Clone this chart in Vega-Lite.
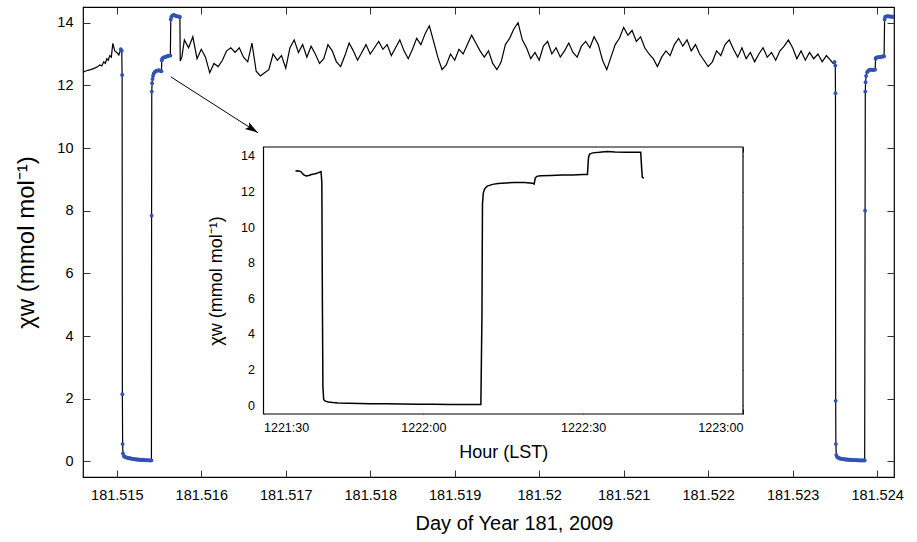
{
  "$schema": "https://vega.github.io/schema/vega-lite/v6.json",
  "width": 811,
  "height": 470,
  "autosize": {"type": "none"},
  "padding": {"left": 83, "top": 7, "right": 23, "bottom": 65},
  "background": "white",
  "config": {
    "font": "Liberation Sans",
    "view": {"stroke": "#000", "strokeWidth": 1.2},
    "axis": {"domain": false, "grid": false, "tickColor": "#333", "tickWidth": 1, "labelColor": "#000", "titleColor": "#000", "titleFontWeight": "normal"}
  },
  "datasets": {
    "main": [
      {"t": 181.514597, "chi": 12.42, "cal": 0},
      {"t": 181.514627, "chi": 12.45, "cal": 0},
      {"t": 181.514657, "chi": 12.48, "cal": 0},
      {"t": 181.514692, "chi": 12.5, "cal": 0},
      {"t": 181.514739, "chi": 12.55, "cal": 0},
      {"t": 181.514775, "chi": 12.6, "cal": 0},
      {"t": 181.514799, "chi": 12.65, "cal": 0},
      {"t": 181.514822, "chi": 12.62, "cal": 0},
      {"t": 181.514846, "chi": 12.75, "cal": 0},
      {"t": 181.514864, "chi": 12.7, "cal": 0},
      {"t": 181.514882, "chi": 12.85, "cal": 0},
      {"t": 181.514899, "chi": 12.8, "cal": 0},
      {"t": 181.514917, "chi": 12.95, "cal": 0},
      {"t": 181.514935, "chi": 12.9, "cal": 0},
      {"t": 181.514953, "chi": 13.34, "cal": 0},
      {"t": 181.514976, "chi": 13.1, "cal": 0},
      {"t": 181.515, "chi": 13.05, "cal": 0},
      {"t": 181.515024, "chi": 12.97, "cal": 0},
      {"t": 181.515047, "chi": 13.15, "cal": 1},
      {"t": 181.515059, "chi": 13.1, "cal": 1},
      {"t": 181.515063, "chi": 12.33, "cal": 1},
      {"t": 181.515066, "chi": 2.14, "cal": 1},
      {"t": 181.515069, "chi": 0.55, "cal": 1},
      {"t": 181.515073, "chi": 0.25, "cal": 1},
      {"t": 181.515083, "chi": 0.17, "cal": 1},
      {"t": 181.515095, "chi": 0.14, "cal": 1},
      {"t": 181.515107, "chi": 0.13, "cal": 1},
      {"t": 181.515119, "chi": 0.12, "cal": 1},
      {"t": 181.51513, "chi": 0.11, "cal": 1},
      {"t": 181.515142, "chi": 0.1, "cal": 1},
      {"t": 181.515154, "chi": 0.1, "cal": 1},
      {"t": 181.515166, "chi": 0.09, "cal": 1},
      {"t": 181.515178, "chi": 0.08, "cal": 1},
      {"t": 181.515189, "chi": 0.08, "cal": 1},
      {"t": 181.515201, "chi": 0.07, "cal": 1},
      {"t": 181.515213, "chi": 0.07, "cal": 1},
      {"t": 181.515225, "chi": 0.06, "cal": 1},
      {"t": 181.515237, "chi": 0.06, "cal": 1},
      {"t": 181.515249, "chi": 0.06, "cal": 1},
      {"t": 181.515261, "chi": 0.05, "cal": 1},
      {"t": 181.515272, "chi": 0.05, "cal": 1},
      {"t": 181.515284, "chi": 0.05, "cal": 1},
      {"t": 181.515296, "chi": 0.04, "cal": 1},
      {"t": 181.515308, "chi": 0.05, "cal": 1},
      {"t": 181.51532, "chi": 0.04, "cal": 1},
      {"t": 181.515332, "chi": 0.04, "cal": 1},
      {"t": 181.515343, "chi": 0.04, "cal": 1},
      {"t": 181.515355, "chi": 0.03, "cal": 1},
      {"t": 181.515367, "chi": 0.04, "cal": 1},
      {"t": 181.515379, "chi": 0.03, "cal": 1},
      {"t": 181.515391, "chi": 0.03, "cal": 1},
      {"t": 181.515403, "chi": 0.03, "cal": 1},
      {"t": 181.51541, "chi": 0.03, "cal": 1},
      {"t": 181.515412, "chi": 7.84, "cal": 1},
      {"t": 181.515414, "chi": 11.8, "cal": 1},
      {"t": 181.515418, "chi": 12.07, "cal": 1},
      {"t": 181.515423, "chi": 12.2, "cal": 1},
      {"t": 181.515429, "chi": 12.3, "cal": 1},
      {"t": 181.515438, "chi": 12.38, "cal": 1},
      {"t": 181.51545, "chi": 12.43, "cal": 1},
      {"t": 181.515462, "chi": 12.45, "cal": 1},
      {"t": 181.515474, "chi": 12.47, "cal": 1},
      {"t": 181.515486, "chi": 12.47, "cal": 1},
      {"t": 181.515497, "chi": 12.48, "cal": 1},
      {"t": 181.515509, "chi": 12.47, "cal": 1},
      {"t": 181.515521, "chi": 12.46, "cal": 1},
      {"t": 181.515528, "chi": 12.45, "cal": 1},
      {"t": 181.515533, "chi": 12.8, "cal": 1},
      {"t": 181.515539, "chi": 12.86, "cal": 1},
      {"t": 181.515551, "chi": 12.88, "cal": 1},
      {"t": 181.515562, "chi": 12.9, "cal": 1},
      {"t": 181.515574, "chi": 12.9, "cal": 1},
      {"t": 181.515586, "chi": 12.92, "cal": 1},
      {"t": 181.515598, "chi": 12.93, "cal": 1},
      {"t": 181.51561, "chi": 12.94, "cal": 1},
      {"t": 181.515622, "chi": 12.95, "cal": 1},
      {"t": 181.515634, "chi": 12.95, "cal": 1},
      {"t": 181.515639, "chi": 14.1, "cal": 1},
      {"t": 181.515645, "chi": 14.18, "cal": 1},
      {"t": 181.515657, "chi": 14.22, "cal": 1},
      {"t": 181.515669, "chi": 14.25, "cal": 1},
      {"t": 181.515681, "chi": 14.24, "cal": 1},
      {"t": 181.515693, "chi": 14.22, "cal": 1},
      {"t": 181.515705, "chi": 14.21, "cal": 1},
      {"t": 181.515716, "chi": 14.2, "cal": 1},
      {"t": 181.515728, "chi": 14.2, "cal": 1},
      {"t": 181.51574, "chi": 14.19, "cal": 1},
      {"t": 181.515747, "chi": 14.18, "cal": 1},
      {"t": 181.515751, "chi": 12.78, "cal": 0},
      {"t": 181.51577, "chi": 12.9, "cal": 0},
      {"t": 181.5158, "chi": 13.45, "cal": 0},
      {"t": 181.51585, "chi": 13.2, "cal": 0},
      {"t": 181.5159, "chi": 13.55, "cal": 0},
      {"t": 181.51595, "chi": 12.85, "cal": 0},
      {"t": 181.516, "chi": 13.15, "cal": 0},
      {"t": 181.51605, "chi": 12.9, "cal": 0},
      {"t": 181.5161, "chi": 12.4, "cal": 0},
      {"t": 181.51615, "chi": 12.7, "cal": 0},
      {"t": 181.5162, "chi": 12.6, "cal": 0},
      {"t": 181.51625, "chi": 12.8, "cal": 0},
      {"t": 181.5163, "chi": 13.1, "cal": 0},
      {"t": 181.51635, "chi": 13.2, "cal": 0},
      {"t": 181.5164, "chi": 13.05, "cal": 0},
      {"t": 181.51645, "chi": 13.2, "cal": 0},
      {"t": 181.5165, "chi": 12.9, "cal": 0},
      {"t": 181.51655, "chi": 12.75, "cal": 0},
      {"t": 181.5166, "chi": 13.35, "cal": 0},
      {"t": 181.51665, "chi": 12.45, "cal": 0},
      {"t": 181.5167, "chi": 12.3, "cal": 0},
      {"t": 181.51675, "chi": 12.4, "cal": 0},
      {"t": 181.5168, "chi": 12.5, "cal": 0},
      {"t": 181.51685, "chi": 13.0, "cal": 0},
      {"t": 181.5169, "chi": 12.8, "cal": 0},
      {"t": 181.51695, "chi": 12.95, "cal": 0},
      {"t": 181.517, "chi": 12.55, "cal": 0},
      {"t": 181.51705, "chi": 13.2, "cal": 0},
      {"t": 181.5171, "chi": 13.45, "cal": 0},
      {"t": 181.51715, "chi": 13.05, "cal": 0},
      {"t": 181.5172, "chi": 13.3, "cal": 0},
      {"t": 181.51725, "chi": 12.9, "cal": 0},
      {"t": 181.5173, "chi": 13.25, "cal": 0},
      {"t": 181.51735, "chi": 13.0, "cal": 0},
      {"t": 181.5174, "chi": 12.7, "cal": 0},
      {"t": 181.51745, "chi": 12.85, "cal": 0},
      {"t": 181.5175, "chi": 13.3, "cal": 0},
      {"t": 181.51755, "chi": 13.1, "cal": 0},
      {"t": 181.5176, "chi": 12.75, "cal": 0},
      {"t": 181.51765, "chi": 12.6, "cal": 0},
      {"t": 181.5177, "chi": 12.95, "cal": 0},
      {"t": 181.51775, "chi": 13.35, "cal": 0},
      {"t": 181.5178, "chi": 13.1, "cal": 0},
      {"t": 181.51785, "chi": 12.8, "cal": 0},
      {"t": 181.5179, "chi": 13.05, "cal": 0},
      {"t": 181.51795, "chi": 13.3, "cal": 0},
      {"t": 181.518, "chi": 13.0, "cal": 0},
      {"t": 181.51805, "chi": 13.2, "cal": 0},
      {"t": 181.5181, "chi": 13.4, "cal": 0},
      {"t": 181.51815, "chi": 13.15, "cal": 0},
      {"t": 181.5182, "chi": 13.3, "cal": 0},
      {"t": 181.51825, "chi": 12.95, "cal": 0},
      {"t": 181.5183, "chi": 13.2, "cal": 0},
      {"t": 181.51835, "chi": 13.45, "cal": 0},
      {"t": 181.5184, "chi": 13.1, "cal": 0},
      {"t": 181.51845, "chi": 12.85, "cal": 0},
      {"t": 181.5185, "chi": 13.15, "cal": 0},
      {"t": 181.51855, "chi": 13.5, "cal": 0},
      {"t": 181.5186, "chi": 13.3, "cal": 0},
      {"t": 181.51865, "chi": 13.65, "cal": 0},
      {"t": 181.5187, "chi": 13.9, "cal": 0},
      {"t": 181.51875, "chi": 13.4, "cal": 0},
      {"t": 181.5188, "chi": 12.9, "cal": 0},
      {"t": 181.51885, "chi": 12.5, "cal": 0},
      {"t": 181.5189, "chi": 12.65, "cal": 0},
      {"t": 181.51895, "chi": 13.0, "cal": 0},
      {"t": 181.519, "chi": 12.8, "cal": 0},
      {"t": 181.51905, "chi": 13.15, "cal": 0},
      {"t": 181.5191, "chi": 13.0, "cal": 0},
      {"t": 181.51915, "chi": 13.3, "cal": 0},
      {"t": 181.5192, "chi": 13.6, "cal": 0},
      {"t": 181.51925, "chi": 13.35, "cal": 0},
      {"t": 181.5193, "chi": 13.1, "cal": 0},
      {"t": 181.51935, "chi": 12.9, "cal": 0},
      {"t": 181.5194, "chi": 13.1, "cal": 0},
      {"t": 181.51945, "chi": 12.7, "cal": 0},
      {"t": 181.5195, "chi": 12.5, "cal": 0},
      {"t": 181.51955, "chi": 12.75, "cal": 0},
      {"t": 181.5196, "chi": 13.3, "cal": 0},
      {"t": 181.51965, "chi": 13.5, "cal": 0},
      {"t": 181.5197, "chi": 13.8, "cal": 0},
      {"t": 181.51975, "chi": 14.0, "cal": 0},
      {"t": 181.5198, "chi": 13.45, "cal": 0},
      {"t": 181.51985, "chi": 13.2, "cal": 0},
      {"t": 181.5199, "chi": 12.85, "cal": 0},
      {"t": 181.51995, "chi": 13.05, "cal": 0},
      {"t": 181.52, "chi": 12.8, "cal": 0},
      {"t": 181.52005, "chi": 13.25, "cal": 0},
      {"t": 181.5201, "chi": 13.4, "cal": 0},
      {"t": 181.52015, "chi": 13.0, "cal": 0},
      {"t": 181.5202, "chi": 13.2, "cal": 0},
      {"t": 181.52025, "chi": 12.9, "cal": 0},
      {"t": 181.5203, "chi": 13.1, "cal": 0},
      {"t": 181.52035, "chi": 13.35, "cal": 0},
      {"t": 181.5204, "chi": 13.05, "cal": 0},
      {"t": 181.52045, "chi": 12.9, "cal": 0},
      {"t": 181.5205, "chi": 13.25, "cal": 0},
      {"t": 181.52055, "chi": 13.4, "cal": 0},
      {"t": 181.5206, "chi": 13.2, "cal": 0},
      {"t": 181.52065, "chi": 13.55, "cal": 0},
      {"t": 181.5207, "chi": 13.3, "cal": 0},
      {"t": 181.52075, "chi": 12.8, "cal": 0},
      {"t": 181.5208, "chi": 12.5, "cal": 0},
      {"t": 181.52085, "chi": 12.9, "cal": 0},
      {"t": 181.5209, "chi": 13.3, "cal": 0},
      {"t": 181.52095, "chi": 13.5, "cal": 0},
      {"t": 181.521, "chi": 13.85, "cal": 0},
      {"t": 181.52105, "chi": 13.6, "cal": 0},
      {"t": 181.5211, "chi": 13.75, "cal": 0},
      {"t": 181.52115, "chi": 13.4, "cal": 0},
      {"t": 181.5212, "chi": 13.55, "cal": 0},
      {"t": 181.52125, "chi": 13.2, "cal": 0},
      {"t": 181.5213, "chi": 13.0, "cal": 0},
      {"t": 181.52135, "chi": 12.85, "cal": 0},
      {"t": 181.5214, "chi": 12.6, "cal": 0},
      {"t": 181.52145, "chi": 12.9, "cal": 0},
      {"t": 181.5215, "chi": 13.1, "cal": 0},
      {"t": 181.52155, "chi": 12.95, "cal": 0},
      {"t": 181.5216, "chi": 13.3, "cal": 0},
      {"t": 181.52165, "chi": 13.5, "cal": 0},
      {"t": 181.5217, "chi": 13.25, "cal": 0},
      {"t": 181.52175, "chi": 13.45, "cal": 0},
      {"t": 181.5218, "chi": 13.1, "cal": 0},
      {"t": 181.52185, "chi": 13.3, "cal": 0},
      {"t": 181.5219, "chi": 13.0, "cal": 0},
      {"t": 181.52195, "chi": 12.8, "cal": 0},
      {"t": 181.522, "chi": 12.6, "cal": 0},
      {"t": 181.52205, "chi": 12.75, "cal": 0},
      {"t": 181.5221, "chi": 13.1, "cal": 0},
      {"t": 181.52215, "chi": 12.95, "cal": 0},
      {"t": 181.5222, "chi": 13.3, "cal": 0},
      {"t": 181.52225, "chi": 13.45, "cal": 0},
      {"t": 181.5223, "chi": 13.15, "cal": 0},
      {"t": 181.52235, "chi": 12.9, "cal": 0},
      {"t": 181.5224, "chi": 13.2, "cal": 0},
      {"t": 181.52245, "chi": 12.85, "cal": 0},
      {"t": 181.5225, "chi": 13.05, "cal": 0},
      {"t": 181.52255, "chi": 12.75, "cal": 0},
      {"t": 181.5226, "chi": 13.0, "cal": 0},
      {"t": 181.52265, "chi": 13.2, "cal": 0},
      {"t": 181.5227, "chi": 12.9, "cal": 0},
      {"t": 181.52275, "chi": 13.05, "cal": 0},
      {"t": 181.5228, "chi": 12.8, "cal": 0},
      {"t": 181.52285, "chi": 13.1, "cal": 0},
      {"t": 181.5229, "chi": 13.25, "cal": 0},
      {"t": 181.52295, "chi": 13.45, "cal": 0},
      {"t": 181.523, "chi": 13.2, "cal": 0},
      {"t": 181.52305, "chi": 12.85, "cal": 0},
      {"t": 181.5231, "chi": 13.1, "cal": 0},
      {"t": 181.52315, "chi": 12.8, "cal": 0},
      {"t": 181.5232, "chi": 13.05, "cal": 0},
      {"t": 181.52325, "chi": 12.85, "cal": 0},
      {"t": 181.5233, "chi": 13.0, "cal": 0},
      {"t": 181.52335, "chi": 12.75, "cal": 0},
      {"t": 181.5234, "chi": 12.95, "cal": 0},
      {"t": 181.52345, "chi": 12.8, "cal": 0},
      {"t": 181.5234788, "chi": 12.7, "cal": 0},
      {"t": 181.5234966, "chi": 12.75, "cal": 1},
      {"t": 181.5235049, "chi": 12.63, "cal": 1},
      {"t": 181.5235073, "chi": 11.75, "cal": 1},
      {"t": 181.5235097, "chi": 1.93, "cal": 1},
      {"t": 181.523512, "chi": 0.55, "cal": 1},
      {"t": 181.5235168, "chi": 0.2, "cal": 1},
      {"t": 181.5235262, "chi": 0.14, "cal": 1},
      {"t": 181.5235381, "chi": 0.12, "cal": 1},
      {"t": 181.5235499, "chi": 0.1, "cal": 1},
      {"t": 181.5235618, "chi": 0.09, "cal": 1},
      {"t": 181.5235736, "chi": 0.08, "cal": 1},
      {"t": 181.5235854, "chi": 0.08, "cal": 1},
      {"t": 181.5235973, "chi": 0.07, "cal": 1},
      {"t": 181.5236091, "chi": 0.07, "cal": 1},
      {"t": 181.523621, "chi": 0.06, "cal": 1},
      {"t": 181.5236328, "chi": 0.06, "cal": 1},
      {"t": 181.5236446, "chi": 0.06, "cal": 1},
      {"t": 181.5236565, "chi": 0.05, "cal": 1},
      {"t": 181.5236683, "chi": 0.05, "cal": 1},
      {"t": 181.5236802, "chi": 0.05, "cal": 1},
      {"t": 181.523692, "chi": 0.05, "cal": 1},
      {"t": 181.5237039, "chi": 0.04, "cal": 1},
      {"t": 181.5237157, "chi": 0.04, "cal": 1},
      {"t": 181.5237275, "chi": 0.04, "cal": 1},
      {"t": 181.5237394, "chi": 0.04, "cal": 1},
      {"t": 181.5237512, "chi": 0.04, "cal": 1},
      {"t": 181.5237631, "chi": 0.03, "cal": 1},
      {"t": 181.5237749, "chi": 0.04, "cal": 1},
      {"t": 181.5237867, "chi": 0.03, "cal": 1},
      {"t": 181.5237986, "chi": 0.03, "cal": 1},
      {"t": 181.5238104, "chi": 0.03, "cal": 1},
      {"t": 181.5238223, "chi": 0.03, "cal": 1},
      {"t": 181.5238341, "chi": 0.03, "cal": 1},
      {"t": 181.5238459, "chi": 0.03, "cal": 1},
      {"t": 181.523853, "chi": 0.03, "cal": 1},
      {"t": 181.5238578, "chi": 8.0, "cal": 1},
      {"t": 181.5238601, "chi": 11.8, "cal": 1},
      {"t": 181.5238637, "chi": 12.1, "cal": 1},
      {"t": 181.5238696, "chi": 12.3, "cal": 1},
      {"t": 181.5238815, "chi": 12.42, "cal": 1},
      {"t": 181.5238933, "chi": 12.46, "cal": 1},
      {"t": 181.5239052, "chi": 12.48, "cal": 1},
      {"t": 181.523917, "chi": 12.5, "cal": 1},
      {"t": 181.5239289, "chi": 12.5, "cal": 1},
      {"t": 181.5239407, "chi": 12.5, "cal": 1},
      {"t": 181.5239525, "chi": 12.49, "cal": 1},
      {"t": 181.5239644, "chi": 12.5, "cal": 1},
      {"t": 181.5239762, "chi": 12.5, "cal": 1},
      {"t": 181.5239822, "chi": 12.85, "cal": 1},
      {"t": 181.5239881, "chi": 12.88, "cal": 1},
      {"t": 181.5239999, "chi": 12.89, "cal": 1},
      {"t": 181.5240118, "chi": 12.9, "cal": 1},
      {"t": 181.5240236, "chi": 12.9, "cal": 1},
      {"t": 181.5240355, "chi": 12.9, "cal": 1},
      {"t": 181.5240473, "chi": 12.91, "cal": 1},
      {"t": 181.5240592, "chi": 12.92, "cal": 1},
      {"t": 181.524071, "chi": 12.92, "cal": 1},
      {"t": 181.5240828, "chi": 12.93, "cal": 1},
      {"t": 181.5240888, "chi": 14.1, "cal": 1},
      {"t": 181.5240947, "chi": 14.18, "cal": 1},
      {"t": 181.5241065, "chi": 14.2, "cal": 1},
      {"t": 181.5241184, "chi": 14.21, "cal": 1},
      {"t": 181.5241302, "chi": 14.2, "cal": 1},
      {"t": 181.5241421, "chi": 14.2, "cal": 1},
      {"t": 181.5241539, "chi": 14.2, "cal": 1},
      {"t": 181.5241657, "chi": 14.19, "cal": 1},
      {"t": 181.5241776, "chi": 14.19, "cal": 1},
      {"t": 181.5241894, "chi": 14.19, "cal": 1},
      {"t": 181.5242013, "chi": 14.19, "cal": 1}
    ],
    "inset": [
      {"time": "2009-06-30T12:21:36.000Z", "chi": 13.15},
      {"time": "2009-06-30T12:21:36.500Z", "chi": 13.17},
      {"time": "2009-06-30T12:21:37.000Z", "chi": 13.12},
      {"time": "2009-06-30T12:21:37.500Z", "chi": 12.95},
      {"time": "2009-06-30T12:21:38.000Z", "chi": 12.87},
      {"time": "2009-06-30T12:21:38.500Z", "chi": 12.9},
      {"time": "2009-06-30T12:21:39.000Z", "chi": 12.95},
      {"time": "2009-06-30T12:21:39.500Z", "chi": 12.98},
      {"time": "2009-06-30T12:21:40.000Z", "chi": 13.02},
      {"time": "2009-06-30T12:21:40.500Z", "chi": 13.08},
      {"time": "2009-06-30T12:21:40.800Z", "chi": 13.12},
      {"time": "2009-06-30T12:21:40.950Z", "chi": 12.5},
      {"time": "2009-06-30T12:21:41.050Z", "chi": 6.0},
      {"time": "2009-06-30T12:21:41.150Z", "chi": 1.0},
      {"time": "2009-06-30T12:21:41.300Z", "chi": 0.3},
      {"time": "2009-06-30T12:21:41.600Z", "chi": 0.22},
      {"time": "2009-06-30T12:21:42.200Z", "chi": 0.17},
      {"time": "2009-06-30T12:21:43.000Z", "chi": 0.14},
      {"time": "2009-06-30T12:21:44.000Z", "chi": 0.12},
      {"time": "2009-06-30T12:21:46.000Z", "chi": 0.1},
      {"time": "2009-06-30T12:21:48.000Z", "chi": 0.09},
      {"time": "2009-06-30T12:21:50.000Z", "chi": 0.08},
      {"time": "2009-06-30T12:21:53.000Z", "chi": 0.07},
      {"time": "2009-06-30T12:21:56.000Z", "chi": 0.06},
      {"time": "2009-06-30T12:21:59.000Z", "chi": 0.05},
      {"time": "2009-06-30T12:22:02.000Z", "chi": 0.05},
      {"time": "2009-06-30T12:22:05.000Z", "chi": 0.04},
      {"time": "2009-06-30T12:22:08.000Z", "chi": 0.04},
      {"time": "2009-06-30T12:22:10.800Z", "chi": 0.04},
      {"time": "2009-06-30T12:22:11.000Z", "chi": 5.0},
      {"time": "2009-06-30T12:22:11.100Z", "chi": 11.3},
      {"time": "2009-06-30T12:22:11.250Z", "chi": 11.9},
      {"time": "2009-06-30T12:22:11.500Z", "chi": 12.15},
      {"time": "2009-06-30T12:22:12.000Z", "chi": 12.3},
      {"time": "2009-06-30T12:22:13.000Z", "chi": 12.4},
      {"time": "2009-06-30T12:22:14.000Z", "chi": 12.45},
      {"time": "2009-06-30T12:22:15.500Z", "chi": 12.48},
      {"time": "2009-06-30T12:22:17.000Z", "chi": 12.5},
      {"time": "2009-06-30T12:22:19.000Z", "chi": 12.5},
      {"time": "2009-06-30T12:22:20.500Z", "chi": 12.47},
      {"time": "2009-06-30T12:22:20.800Z", "chi": 12.42},
      {"time": "2009-06-30T12:22:21.000Z", "chi": 12.75},
      {"time": "2009-06-30T12:22:21.300Z", "chi": 12.85},
      {"time": "2009-06-30T12:22:22.000Z", "chi": 12.88},
      {"time": "2009-06-30T12:22:24.000Z", "chi": 12.9},
      {"time": "2009-06-30T12:22:26.000Z", "chi": 12.92},
      {"time": "2009-06-30T12:22:28.000Z", "chi": 12.93},
      {"time": "2009-06-30T12:22:30.000Z", "chi": 12.95},
      {"time": "2009-06-30T12:22:30.800Z", "chi": 12.95},
      {"time": "2009-06-30T12:22:31.000Z", "chi": 13.9},
      {"time": "2009-06-30T12:22:31.200Z", "chi": 14.1},
      {"time": "2009-06-30T12:22:31.800Z", "chi": 14.17},
      {"time": "2009-06-30T12:22:33.000Z", "chi": 14.2},
      {"time": "2009-06-30T12:22:34.500Z", "chi": 14.25},
      {"time": "2009-06-30T12:22:36.000Z", "chi": 14.22},
      {"time": "2009-06-30T12:22:38.000Z", "chi": 14.2},
      {"time": "2009-06-30T12:22:40.000Z", "chi": 14.2},
      {"time": "2009-06-30T12:22:40.800Z", "chi": 14.2},
      {"time": "2009-06-30T12:22:41.000Z", "chi": 13.2},
      {"time": "2009-06-30T12:22:41.100Z", "chi": 12.8},
      {"time": "2009-06-30T12:22:41.400Z", "chi": 12.75}
    ],
    "arrow": [{"t1": 181.51564, "v1": 12.27, "t2": 181.51667, "v2": 10.49}],
    "box": [{"a": "2009-06-30T12:21:30.000Z", "b": "2009-06-30T12:23:00.000Z", "lo": -0.5, "hi": 14.5}]
  },
  "layer": [
    {
      "layer": [
        {
          "data": {"name": "main"},
          "mark": {"type": "line", "color": "#000", "strokeWidth": 1.2, "clip": true},
          "encoding": {
            "x": {"field": "t", "type": "quantitative",
              "scale": {"domain": [181.5146, 181.5242], "nice": false, "zero": false},
              "axis": {"orient": "bottom", "values": [181.515, 181.516, 181.517, 181.518, 181.519, 181.52, 181.521, 181.522, 181.523, 181.524],
                "format": ".6~g", "tickSize": -7, "labelPadding": 18, "labelFontSize": 14.5,
                "title": "Day of Year 181, 2009", "titleFontSize": 20, "titlePadding": 12, "titleX": 431}},
            "y": {"field": "chi", "type": "quantitative",
              "scale": {"domain": [-0.5, 14.5], "nice": false, "zero": false},
              "axis": {"orient": "left", "values": [0, 2, 4, 6, 8, 10, 12, 14], "tickSize": -7, "labelPadding": 17, "labelFontSize": 14.5,
                "title": "χw (mmol mol⁻¹)", "titleFontSize": 24, "titlePadding": 18}}
          }
        },
        {
          "data": {"name": "main"},
          "transform": [{"filter": "datum.cal == 1"}],
          "mark": {"type": "point", "filled": true, "color": "#3352b5", "size": 15, "opacity": 1, "clip": true},
          "encoding": {
            "x": {"field": "t", "type": "quantitative", "axis": null},
            "y": {"field": "chi", "type": "quantitative", "axis": null}
          }
        },
        {
          "data": {"name": "arrow"},
          "mark": {"type": "rule", "color": "#000", "strokeWidth": 1},
          "encoding": {
            "x": {"field": "t1", "type": "quantitative",
              "axis": {"orient": "top", "values": [181.515, 181.516, 181.517, 181.518, 181.519, 181.52, 181.521, 181.522, 181.523, 181.524], "labels": false, "tickSize": -7, "title": null}},
            "x2": {"field": "t2"},
            "y": {"field": "v1", "type": "quantitative",
              "axis": {"orient": "right", "values": [0, 2, 4, 6, 8, 10, 12, 14], "labels": false, "tickSize": -7, "title": null}},
            "y2": {"field": "v2"}
          }
        },
        {
          "data": {"name": "arrow"},
          "mark": {"type": "point", "filled": true, "color": "#000", "opacity": 1, "size": 676, "angle": 32.8, "shape": "M0,0L-1,-0.3L-0.8,0L-1,0.3Z"},
          "encoding": {
            "x": {"field": "t2", "type": "quantitative", "axis": null},
            "y": {"field": "v2", "type": "quantitative", "axis": null}
          }
        }
      ],
      "resolve": {"axis": {"x": "independent", "y": "independent"}}
    },
    {
      "layer": [
        {
          "data": {"name": "box"},
          "mark": {"type": "rect", "fill": "white", "stroke": "#000", "strokeWidth": 1.2},
          "encoding": {
            "x": {"field": "a", "type": "temporal",
              "scale": {"type": "utc", "domain": [{"year": 2009, "month": 6, "date": 30, "hours": 12, "minutes": 21, "seconds": 30, "utc": true}, {"year": 2009, "month": 6, "date": 30, "hours": 12, "minutes": 23, "seconds": 0, "utc": true}], "range": [180.5, 660], "nice": false},
              "axis": {"orient": "top", "offset": -140, "labels": false, "tickSize": -5, "title": null,
                "values": [{"year": 2009, "month": 6, "date": 30, "hours": 12, "minutes": 21, "seconds": 30, "utc": true}, {"year": 2009, "month": 6, "date": 30, "hours": 12, "minutes": 22, "seconds": 0, "utc": true}, {"year": 2009, "month": 6, "date": 30, "hours": 12, "minutes": 22, "seconds": 30, "utc": true}, {"year": 2009, "month": 6, "date": 30, "hours": 12, "minutes": 23, "seconds": 0, "utc": true}]}},
            "x2": {"field": "b"},
            "y": {"field": "lo", "type": "quantitative",
              "scale": {"domain": [-0.5, 14.5], "range": [407, 140], "nice": false, "zero": false},
              "axis": {"orient": "right", "offset": -151, "labels": false, "tickSize": -5, "title": null, "values": [0, 2, 4, 6, 8, 10, 12, 14]}},
            "y2": {"field": "hi"}
          }
        },
        {
          "data": {"name": "inset"},
          "mark": {"type": "line", "color": "#000", "strokeWidth": 1.5},
          "encoding": {
            "x": {"field": "time", "type": "temporal",
              "scale": {"type": "utc", "domain": [{"year": 2009, "month": 6, "date": 30, "hours": 12, "minutes": 21, "seconds": 30, "utc": true}, {"year": 2009, "month": 6, "date": 30, "hours": 12, "minutes": 23, "seconds": 0, "utc": true}], "range": [180.5, 660], "nice": false},
              "axis": {"orient": "bottom", "offset": -63, "format": "%H%M:%S", "tickSize": -5, "labelPadding": 12, "labelFontSize": 12.5,
                "values": [{"year": 2009, "month": 6, "date": 30, "hours": 12, "minutes": 21, "seconds": 30, "utc": true}, {"year": 2009, "month": 6, "date": 30, "hours": 12, "minutes": 22, "seconds": 0, "utc": true}, {"year": 2009, "month": 6, "date": 30, "hours": 12, "minutes": 22, "seconds": 30, "utc": true}, {"year": 2009, "month": 6, "date": 30, "hours": 12, "minutes": 23, "seconds": 0, "utc": true}],
                "title": "Hour (LST)", "titleFontSize": 18, "titlePadding": 10}},
            "y": {"field": "chi", "type": "quantitative",
              "scale": {"domain": [-0.5, 14.5], "range": [407, 140], "nice": false, "zero": false},
              "axis": {"orient": "left", "offset": -180.5, "values": [0, 2, 4, 6, 8, 10, 12, 14], "tickSize": -5, "labelPadding": 14, "labelFontSize": 12.5,
                "title": "χw (mmol mol⁻¹)", "titleFontSize": 18, "titlePadding": 15}}
          }
        }
      ],
      "resolve": {"axis": {"x": "independent", "y": "independent"}}
    }
  ],
  "resolve": {"scale": {"x": "independent", "y": "independent"}}
}
